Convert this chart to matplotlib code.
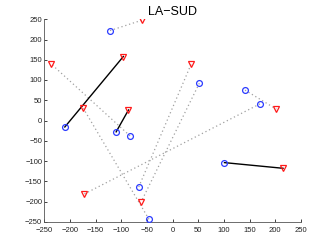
import matplotlib
matplotlib.use("Agg")
import matplotlib.pyplot as plt

# each pair: circle point (o) linked to triangle point (v)
circle_x = [-122, -210, -83, -110, -46, -66, 52, 141, 170, 101]
circle_y = [222, -16, -38, -28, -244, -164, 92, 75, 41, -104]
tri_x = [-59, -96, -236, -86, -174, 36, -61, 202, -173, 215]
tri_y = [248, 158, 139, 26, 30, 139, -200, 28, -182, -118]
solid = [False, True, False, True, False, False, False, False, False, True]

ticks = list(range(-250, 251, 50))

plt.rcParams["font.family"] = ["Liberation Sans", "DejaVu Sans"]
fig = plt.figure(figsize=(3.32, 2.5), dpi=100)
ax = fig.add_axes([0.1334, 0.113, 0.7732, 0.81])

for i in range(len(circle_x)):
    if solid[i]:
        ax.plot([circle_x[i], tri_x[i]], [circle_y[i], tri_y[i]],
                color="black", lw=1.0, zorder=2)
    else:
        ax.plot([circle_x[i], tri_x[i]], [circle_y[i], tri_y[i]],
                color="#a0a0a0", lw=0.9, ls=(0, (1, 2.2)), zorder=1)

ax.plot(circle_x, circle_y, ls="none", marker="o", ms=4.2, mfc="none",
        mec="#2b3bff", mew=0.9, zorder=3)
ax.plot(tri_x, tri_y, ls="none", marker="v", ms=5, mfc="none",
        mec="#ff1a1a", mew=0.9, zorder=3)

ax.set_xlim(-250, 250)
ax.set_ylim(-250, 250)
ax.set_xticks(ticks)
ax.set_yticks(ticks)
ax.tick_params(direction="in", length=2.5, width=0.6, labelsize=5.5,
               colors="#222222")
ax.tick_params(axis="x", pad=3.5)
ax.tick_params(axis="y", pad=1.5)
for s in ["top", "right"]:
    ax.spines[s].set_visible(False)
for s in ["left", "bottom"]:
    ax.spines[s].set_linewidth(0.6)
    ax.spines[s].set_color("#555555")
ax.set_title("LA\u2212SUD", fontsize=9, pad=3)

fig.savefig("out.png", dpi=100)
